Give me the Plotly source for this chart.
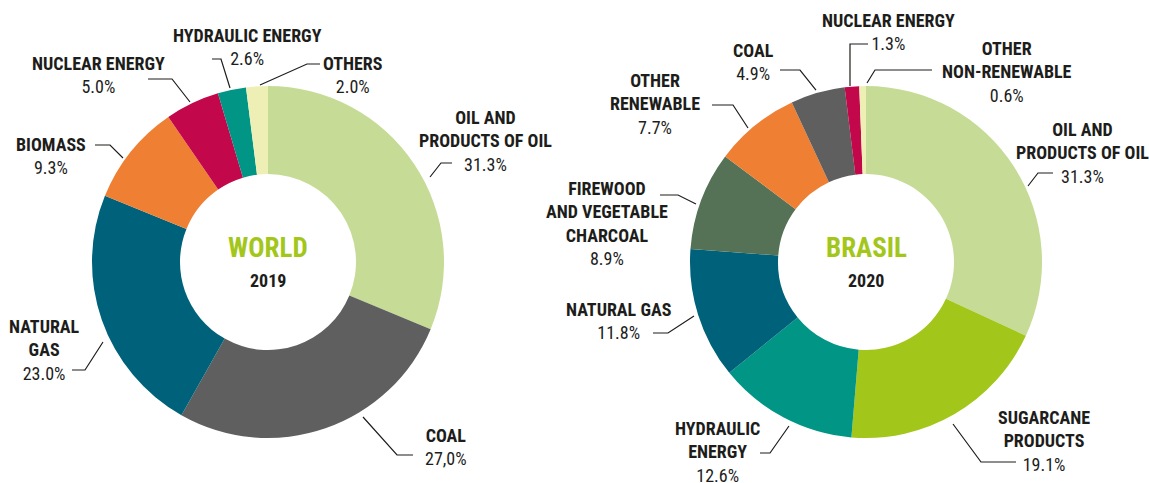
import plotly.graph_objects as go

# ---- data -------------------------------------------------------------
world_sources = [
    "OIL AND<br>PRODUCTS OF OIL", "COAL", "NATURAL<br>GAS", "BIOMASS",
    "NUCLEAR ENERGY", "HYDRAULIC ENERGY", "OTHERS",
]
world_share = [31.3, 27.0, 23.0, 9.3, 5.0, 2.6, 2.0]

brasil_sources = [
    "OIL AND<br>PRODUCTS OF OIL", "SUGARCANE<br>PRODUCTS", "HYDRAULIC<br>ENERGY",
    "NATURAL GAS", "FIREWOOD<br>AND VEGETABLE<br>CHARCOAL", "OTHER<br>RENEWABLE",
    "COAL", "NUCLEAR ENERGY", "OTHER<br>NON-RENEWABLE",
]
brasil_share = [31.3, 19.1, 12.6, 11.8, 8.9, 7.7, 4.9, 1.3, 0.6]

# ---- styling ----------------------------------------------------------
W, H = 1149, 483
FONT = "Roboto Condensed, Liberation Sans Narrow, sans-serif"
TEXT = "#1d1d1b"
ACCENT = "#a3c61a"

OIL, COAL, GAS, ORANGE = "#c6dc96", "#5f5f5f", "#00627a", "#ef7f32"
NUCLEAR, HYDRO, PALE = "#c2074b", "#009585", "#eeefb5"
SUGAR, WOOD = "#a3c61a", "#557256"

world_colors = [OIL, COAL, GAS, ORANGE, NUCLEAR, HYDRO, PALE]
brasil_colors = [OIL, SUGAR, HYDRO, GAS, WOOD, ORANGE, COAL, NUCLEAR, PALE]

RADIUS = 176
world_center = (268, 262)
brasil_center = (866, 262)

LABEL_SIZE = 18

# Label layout, in pixels relative to each donut centre:
# (text centre x, top-line centre y), leader polyline, decimal mark
world_layout = [
    ((217, -144), [(162, -85), (173, -99), (184, -99)], "."),
    ((178, 174), [(95, 155), (129, 193), (145, 193)], ","),
    ((-224, 65), [(-165, 80), (-183, 108), (-196, 108)], "."),
    ((-217, -117), [(-145, -104), (-158, -117), (-173, -117)], "."),
    ((-170, -198), [(-78, -160), (-96, -183), (-120, -183)], "."),
    ((-21, -226), [(-38, -174), (-47, -203), (-56, -203)], "."),
    ((85, -198), [(-8, -177), (39, -198), (52, -198)], "."),
]
brasil_layout = [
    ((216, -132), [(162, -76), (172, -89), (187, -89)], "."),
    ((178, 156), [(87, 162), (115, 200), (150, 200)], "."),
    ((-149, 167), [(-77, 164), (-96, 191), (-106, 191)], "."),
    ((-247, 48), [(-172, 54), (-198, 71), (-213, 71)], "."),
    ((-259, -72), [(-170, -58), (-188, -67), (-206, -67)], "."),
    ((-211, -180), [(-118, -134), (-133, -157), (-154, -157)], "."),
    ((-113, -211), [(-50, -172), (-66, -192), (-86, -192)], "."),
    ((22, -241), [(-16, -176), (-16, -218), (2, -218)], "."),
    ((141, -213), [(1, -179), (9, -192), (66, -192)], "."),
]


def fx(x):
    return x / W


def fy(y):
    return 1 - y / H


def domain(center):
    cx, cy = center
    return dict(x=[fx(cx - RADIUS), fx(cx + RADIUS)],
                y=[fy(cy + RADIUS), fy(cy - RADIUS)])


fig = go.Figure()
for values, colors, center in [(world_share, world_colors, world_center),
                               (brasil_share, brasil_colors, brasil_center)]:
    fig.add_trace(go.Pie(
        values=values,
        marker=dict(colors=colors, line=dict(width=0)),
        hole=0.5,
        sort=False,
        direction="clockwise",
        rotation=0,
        textinfo="none",
        hoverinfo="skip",
        showlegend=False,
        domain=domain(center),
    ))

annotations = []
shapes = []


def add_labels(names, values, layout, center):
    cx, cy = center
    for name, value, (text_pos, leader, sep) in zip(names, values, layout):
        pct = f"{value:.1f}%".replace(".", sep)
        n_lines = name.count("<br>") + 2
        tx, ty = text_pos
        mid = ty + (n_lines - 1) * 22.5 / 2
        annotations.append(dict(
            x=fx(cx + tx), y=fy(cy + mid), xref="paper", yref="paper",
            xanchor="center", yanchor="middle", showarrow=False,
            text=f"<b>{name}</b><br>{pct}",
            font=dict(family=FONT, size=LABEL_SIZE, color=TEXT),
        ))
        path = " ".join(
            ("M" if i == 0 else "L") + f" {fx(cx + px):.5f} {fy(cy + py):.5f}"
            for i, (px, py) in enumerate(leader))
        shapes.append(dict(type="path", path=path, xref="paper", yref="paper",
                           line=dict(color=TEXT, width=1.2)))


add_labels(world_sources, world_share, world_layout, world_center)
add_labels(brasil_sources, brasil_share, brasil_layout, brasil_center)

for title, year, center in [("WORLD", "2019", world_center),
                            ("BRASIL", "2020", brasil_center)]:
    cx, cy = center
    annotations.append(dict(
        x=fx(cx), y=fy(cy - 14), xref="paper", yref="paper",
        xanchor="center", yanchor="middle", showarrow=False,
        text=f"<b>{title}</b>", font=dict(family=FONT, size=27, color=ACCENT)))
    annotations.append(dict(
        x=fx(cx), y=fy(cy + 18), xref="paper", yref="paper",
        xanchor="center", yanchor="middle", showarrow=False,
        text=f"<b>{year}</b>", font=dict(family=FONT, size=18, color=TEXT)))

fig.update_layout(
    width=W, height=H,
    margin=dict(l=0, r=0, t=0, b=0),
    paper_bgcolor="white", plot_bgcolor="white",
    annotations=annotations, shapes=shapes,
)

fig.write_html("out.html")
